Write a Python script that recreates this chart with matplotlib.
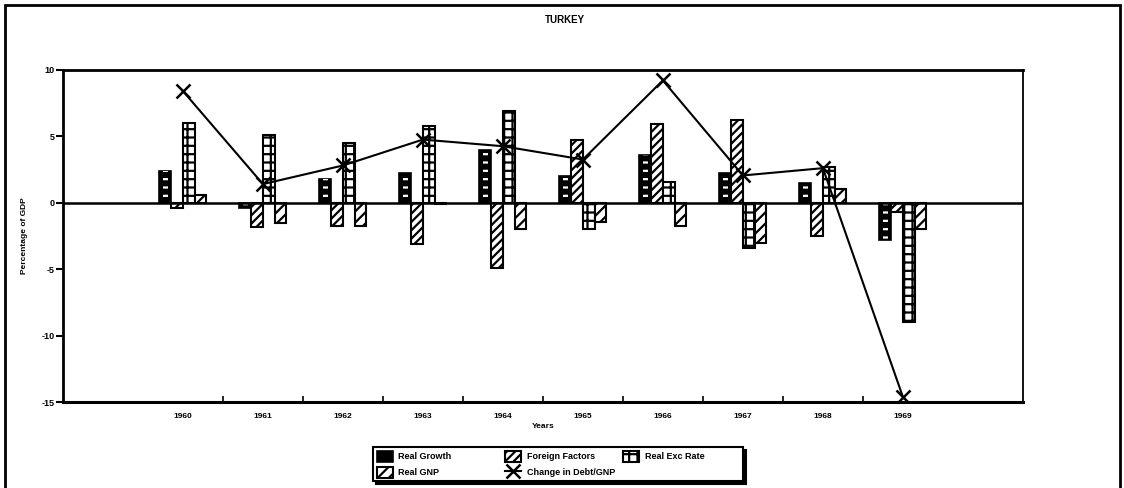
import numpy as np
import matplotlib
matplotlib.use("Agg")
import matplotlib.pyplot as plt
from matplotlib.patches import Rectangle
from matplotlib.ticker import FixedLocator

plt.rcParams['font.family'] = ['Liberation Sans', 'DejaVu Sans']
plt.rcParams['axes.unicode_minus'] = False
plt.rcParams['hatch.linewidth'] = 1.6

years = [1960, 1961, 1962, 1963, 1964, 1965, 1966, 1967, 1968, 1969]
real_growth = [2.4, -0.4, 1.75, 2.2, 4.0, 2.0, 3.6, 2.2, 1.45, -2.8]
foreign_factors = [-0.4, -1.8, -1.75, -3.1, -4.9, 4.7, 5.95, 6.25, -2.5, -0.7]
real_exc_rate = [6.0, 5.1, 4.5, 5.75, 6.9, -2.0, 1.55, -3.4, 2.7, -9.0]
real_gnp = [0.6, -1.55, -1.75, -0.1, -1.95, -1.45, -1.75, -3.05, 1.0, -1.95]
debt_gnp = [8.4, 1.4, 2.8, 4.75, 4.25, 3.25, 9.2, 2.05, 2.6, -14.6]
yticks = [-15, -10, -5, 0, 5, 10]

fig = plt.figure(figsize=(11.24, 4.88), dpi=100)
ax = fig.add_axes([0.056, 0.176, 0.854, 0.681])

x = np.array(years, dtype=float)
w = 0.147

# Real Growth: black with faint white horizontal dashes
b1 = ax.bar(x - 1.5*w, real_growth, w, facecolor='black', edgecolor='black', lw=1.2, zorder=2)
ax.bar(x - 1.5*w, real_growth, w*0.45, facecolor='none', edgecolor='white', hatch='--', lw=0, zorder=2.5)
b2 = ax.bar(x - 0.5*w, foreign_factors, w, facecolor='white', edgecolor='black', hatch='////', lw=1.5, zorder=2)
b3 = ax.bar(x + 0.5*w, real_exc_rate, w, facecolor='white', edgecolor='black', hatch='++', lw=1.5, zorder=2)
b4 = ax.bar(x + 1.5*w, real_gnp, w, facecolor='white', edgecolor='black', hatch='///', lw=1.5, zorder=2)
ln, = ax.plot(x, debt_gnp, color='black', lw=1.5, marker='x', ms=10, mew=1.8, zorder=4)

ax.axhline(0, color='black', lw=1.8, zorder=3)

ax.set_xlim(1958.5, 1970.5)
ax.set_ylim(-15, 10)
ax.set_xticks(years)
ax.set_xticklabels([str(y) for y in years], fontsize=6, fontweight='bold')
ax.xaxis.set_minor_locator(FixedLocator([y + 0.5 for y in years[:-1]]))
ax.tick_params(axis='x', which='major', length=0, pad=8)
ax.tick_params(axis='x', which='minor', direction='in', length=4, width=1.2)
ax.set_yticks(yticks)
ax.set_yticklabels([str(v) for v in yticks], fontsize=6.5, fontweight='bold')
ax.tick_params(axis='y', direction='out', length=5, width=1.5, pad=1)

for side, lw in [('top', 2), ('bottom', 2.2), ('left', 2), ('right', 1.3)]:
    ax.spines[side].set_linewidth(lw)

ax.set_xlabel('Years', fontsize=6, fontweight='bold', labelpad=2)
ax.set_ylabel('Percentage of GDP', fontsize=6, fontweight='bold', labelpad=10)

fig.text(565/1124, 1 - 20/488, 'TURKEY', ha='center', va='center', fontsize=7, fontweight='bold')

# column-major order so rows read: Real Growth, Foreign Factors, Real Exc Rate / Real GNP, Change in Debt/GNP
pad = ' ' * 18
leg = fig.legend([b1, b4, b2, ln, b3],
                 ['Real Growth' + pad, 'Real GNP', 'Foreign Factors', 'Change in Debt/GNP',
                  'Real Exc Rate' + ' ' * 14],
                 ncol=3, loc='upper center', bbox_to_anchor=(558/1124, (488-447)/488),
                 fontsize=6.5, frameon=True, fancybox=False, shadow={'color': 'black', 'alpha': 1},
                 borderpad=0.4, handlelength=1.8, handleheight=1.5, columnspacing=0.9,
                 labelspacing=0.55, handletextpad=0.6, edgecolor='black', borderaxespad=0)
leg.get_frame().set_linewidth(1.5)
for t in leg.get_texts():
    t.set_fontweight('bold')

fig.patches.append(Rectangle((5/1124, -0.05), (1120-5)/1124, 1.05 - 5/488,
                             transform=fig.transFigure, fill=False, lw=2, ec='black'))

fig.savefig('out.png', dpi=100)
